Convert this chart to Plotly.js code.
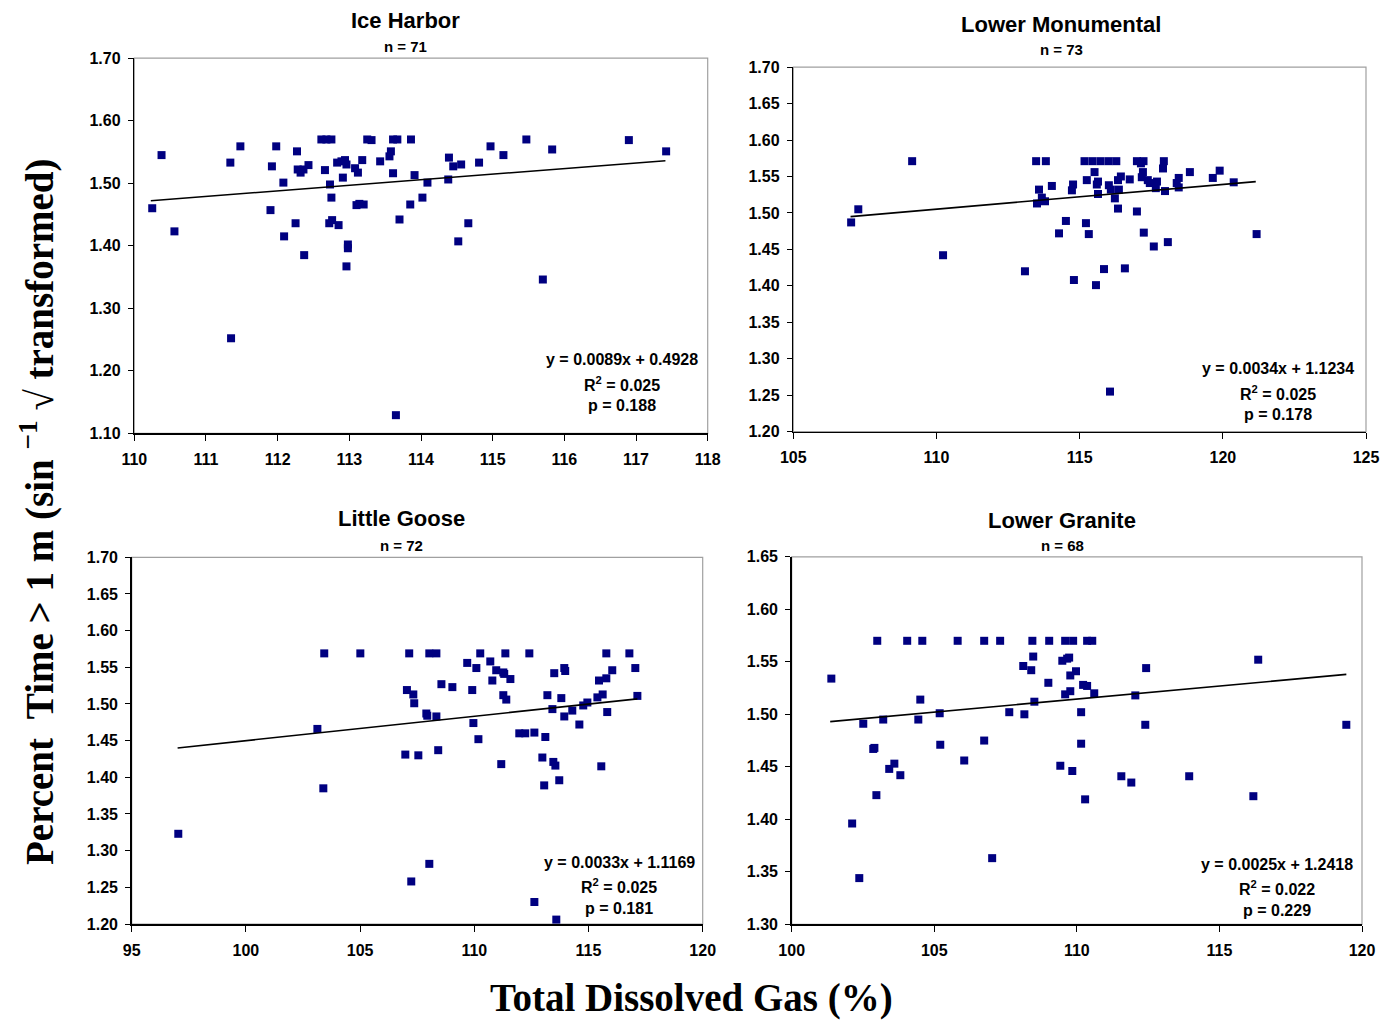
<!DOCTYPE html>
<html>
<head>
<meta charset="utf-8">
<script src="https://cdn.plot.ly/plotly-3.0.1.min.js"></script>
<style>html,body{margin:0;padding:0;background:#fff;}#chart{width:1382px;height:1022px;}</style>
</head>
<body>
<div id="chart"></div>
<script>
// ---------- DATA ----------
const panelNames = ["Ice Harbor", "Lower Monumental", "Little Goose", "Lower Granite"];
const panelN = [71, 73, 72, 68];
const equations = ["y = 0.0089x + 0.4928", "y = 0.0034x + 1.1234", "y = 0.0033x + 1.1169", "y = 0.0025x + 1.2418"];
const rSquared = ["0.025", "0.025", "0.025", "0.022"];
const pValues = ["0.188", "0.178", "0.181", "0.229"];

const iceHarborX = [110.25,110.38,110.56,111.34,111.35,111.48,111.90,111.92,111.98,112.08,112.09,112.25,112.27,112.28,112.32,112.36,112.37,112.43,112.61,112.68,112.75,112.66,112.73,112.75,112.72,112.76,112.85,112.83,112.89,112.94,112.96,112.91,112.98,112.98,112.96,113.08,113.12,113.10,113.14,113.20,113.18,113.25,113.31,113.43,113.56,113.58,113.61,113.61,113.67,113.70,113.65,113.85,113.86,113.91,114.02,114.09,114.38,114.39,114.45,114.56,114.52,114.66,114.81,114.97,115.15,115.47,115.70,115.83,116.90,117.42];
const iceHarborY = [1.460,1.545,1.423,1.533,1.252,1.559,1.457,1.527,1.559,1.501,1.415,1.436,1.551,1.522,1.517,1.522,1.385,1.529,1.570,1.570,1.570,1.521,1.498,1.477,1.436,1.441,1.433,1.533,1.535,1.537,1.530,1.509,1.402,1.396,1.367,1.524,1.517,1.465,1.467,1.466,1.537,1.570,1.569,1.535,1.543,1.551,1.516,1.570,1.570,1.442,1.129,1.466,1.570,1.513,1.477,1.501,1.506,1.541,1.527,1.530,1.407,1.436,1.533,1.559,1.545,1.570,1.346,1.554,1.569,1.551];

const lowerMonX = [107.02,107.27,109.15,110.23,113.09,113.48,113.82,113.58,114.03,113.68,113.51,113.79,114.52,114.28,114.77,114.73,114.80,115.17,115.45,115.73,116.01,116.28,117.00,117.23,117.94,115.52,115.25,115.64,115.60,116.02,116.44,116.34,116.75,116.37,116.09,115.64,116.23,116.34,117.00,117.14,117.21,117.17,117.38,117.70,117.45,117.66,117.98,117.91,118.46,118.39,118.46,118.85,119.65,119.89,120.38,115.22,115.32,117.24,117.59,118.08,121.18,115.85,116.58,115.57,116.06];
const lowerMonY = [1.487,1.505,1.571,1.442,1.420,1.571,1.571,1.532,1.537,1.521,1.513,1.516,1.489,1.472,1.539,1.531,1.408,1.571,1.571,1.571,1.571,1.571,1.571,1.571,1.571,1.556,1.545,1.543,1.539,1.538,1.550,1.545,1.546,1.532,1.532,1.526,1.520,1.506,1.502,1.568,1.556,1.549,1.545,1.543,1.541,1.534,1.530,1.561,1.548,1.541,1.535,1.556,1.548,1.558,1.542,1.486,1.471,1.473,1.454,1.460,1.471,1.423,1.424,1.401,1.255];

const littleGooseX = [97.04,103.13,103.43,103.39,105.01,107.15,107.05,107.33,107.37,106.98,107.55,107.24,108.03,108.34,107.90,107.94,108.34,108.56,109.04,108.42,108.03,109.69,110.09,110.26,109.91,109.96,110.18,110.70,110.96,111.27,111.31,110.79,111.58,111.36,111.27,111.40,111.18,112.41,111.97,112.23,112.63,112.63,113.11,112.98,113.46,113.55,113.06,113.72,113.59,113.20,113.42,113.50,113.94,113.98,113.81,113.94,114.29,114.60,114.77,114.95,115.39,115.62,115.82,115.46,115.78,116.04,115.78,115.56,116.79,117.05,117.14];
const littleGooseY = [1.323,1.466,1.569,1.385,1.569,1.569,1.519,1.513,1.501,1.431,1.430,1.258,1.569,1.569,1.487,1.484,1.483,1.527,1.523,1.437,1.282,1.556,1.549,1.569,1.519,1.474,1.452,1.558,1.546,1.543,1.541,1.532,1.534,1.569,1.512,1.506,1.418,1.569,1.460,1.460,1.461,1.230,1.455,1.427,1.421,1.416,1.389,1.396,1.206,1.512,1.493,1.542,1.549,1.545,1.508,1.483,1.491,1.472,1.498,1.502,1.509,1.513,1.489,1.532,1.535,1.546,1.569,1.415,1.569,1.549,1.511];

const lowerGraniteX = [101.39,102.12,102.37,102.51,102.86,102.90,102.97,103.00,103.21,103.42,103.60,103.81,104.05,104.44,104.51,104.58,105.19,105.21,105.82,106.05,106.75,106.75,107.03,107.31,107.63,108.16,108.12,108.40,108.47,108.44,108.51,109.03,109.00,109.42,109.84,109.59,109.77,109.77,109.97,109.49,109.66,109.73,109.59,109.87,110.36,110.54,110.22,110.36,110.61,110.15,110.15,110.29,111.56,111.91,112.05,112.40,112.43,113.94,116.19,116.36,119.45];
const lowerGraniteY = [1.534,1.396,1.344,1.491,1.467,1.468,1.423,1.570,1.495,1.448,1.453,1.442,1.570,1.495,1.514,1.570,1.501,1.471,1.570,1.456,1.570,1.475,1.363,1.570,1.502,1.500,1.546,1.542,1.555,1.570,1.512,1.570,1.530,1.451,1.446,1.519,1.522,1.537,1.541,1.551,1.553,1.554,1.570,1.570,1.570,1.570,1.528,1.527,1.520,1.502,1.472,1.419,1.441,1.435,1.518,1.490,1.544,1.441,1.422,1.552,1.490];

// trend line end points as drawn in the picture
const trendX = [[110.23,117.41],[107.0,121.15],[97.01,117.14],[101.35,119.45]];
const trendY = [[1.472,1.536],[1.495,1.543],[1.440,1.507],[1.493,1.538]];

const xTitle = "Total Dissolved Gas (%)";
const yTitle = "Percent  Time > 1 m (sin <sup>−1</sup> √ transformed)";

// ---------- LAYOUT ----------
const W = 1382, H = 1022;
const seriesX = [iceHarborX, lowerMonX, littleGooseX, lowerGraniteX];
const seriesY = [iceHarborY, lowerMonY, littleGooseY, lowerGraniteY];
// pixel boxes: left, right, top, bottom
const boxes = [[134.3,707.7,58.2,433.3],[793.3,1366,67.1,431.7],[131.7,702.7,557.3,924],[791.7,1362,556.8,924.3]];
const xr = [[110,118],[105,125],[95,120],[100,120]];
const xd = [1,5,5,5];
const yr = [[1.10,1.70],[1.20,1.70],[1.20,1.70],[1.30,1.65]];
const yd = [0.1,0.05,0.05,0.05];
const titlePos = [[405,20,46],[1061,24,50],[402,518,545],[1062,520,545]];
const statPos = [[622,359,384,405],[1278,368,393,414],[619,862,886,908],[1277,864,888,910]];

const FONT = "Liberation Sans, Arial, sans-serif";
const SERIF = "Liberation Serif, Times New Roman, serif";
const traces = [];
const layout = {
  width: W, height: H, margin: {l:0,r:0,t:0,b:0},
  paper_bgcolor: "#ffffff", plot_bgcolor: "#ffffff",
  showlegend: false, annotations: [], shapes: [],
  font: {family: FONT, color: "#000"}
};
for (let i = 0; i < 4; i++) {
  const k = i === 0 ? "" : String(i+1);
  const b = boxes[i];
  traces.push({
    type: "scatter", mode: "markers", x: seriesX[i], y: seriesY[i],
    xaxis: "x"+k, yaxis: "y"+k, cliponaxis: false,
    marker: {symbol: "square", size: 8, color: "#000080", line: {width: 0}},
    hoverinfo: "x+y"
  });
  traces.push({
    type: "scatter", mode: "lines", x: trendX[i], y: trendY[i],
    xaxis: "x"+k, yaxis: "y"+k,
    line: {color: "#000", width: 1.6}, hoverinfo: "skip"
  });
  layout["xaxis"+k] = {
    domain: [b[0]/W, b[1]/W], anchor: "y"+k, range: xr[i], dtick: xd[i], tick0: 0,
    showgrid: false, zeroline: false, showline: true, linecolor: "#000", linewidth: 1.5,
    ticks: "outside", ticklen: 6, tickwidth: 1, tickcolor: "#000",
    ticklabelstandoff: 5,
    tickfont: {family: FONT, size: 16, color: "#000", weight: "bold"}
  };
  layout["yaxis"+k] = {
    domain: [1-b[3]/H, 1-b[2]/H], anchor: "x"+k, range: yr[i], dtick: yd[i], tick0: 0,
    tickformat: ".2f",
    showgrid: false, zeroline: false, showline: true, linecolor: "#000", linewidth: 1.5,
    ticks: "outside", ticklen: 5, tickwidth: 1, tickcolor: "#000",
    ticklabelstandoff: 4,
    tickfont: {family: FONT, size: 16, color: "#000", weight: "bold"}
  };
  layout.shapes.push({type: "rect", xref: "x"+k+" domain", yref: "y"+k+" domain",
    x0: 0, x1: 1, y0: 0, y1: 1, line: {color: "#a0a0a0", width: 1.2}, layer: "below"});
  const t = titlePos[i];
  layout.annotations.push({xref: "paper", yref: "paper", x: t[0]/W, y: 1-t[1]/H, xanchor: "center", yanchor: "middle",
    text: panelNames[i], showarrow: false, font: {family: FONT, size: 22, color: "#000", weight: "bold"}});
  layout.annotations.push({xref: "paper", yref: "paper", x: t[0]/W, y: 1-t[2]/H, xanchor: "center", yanchor: "middle",
    text: "n = " + panelN[i], showarrow: false, font: {family: FONT, size: 15, color: "#000", weight: "bold"}});
  const s = statPos[i];
  const sf = {family: FONT, size: 16, color: "#000", weight: "bold"};
  layout.annotations.push({xref: "paper", yref: "paper", x: s[0]/W, y: 1-s[1]/H, xanchor: "center", yanchor: "middle",
    text: equations[i], showarrow: false, font: sf});
  layout.annotations.push({xref: "paper", yref: "paper", x: s[0]/W, y: 1-s[2]/H, xanchor: "center", yanchor: "middle",
    text: "R<sup>2</sup> = " + rSquared[i], showarrow: false, font: sf});
  layout.annotations.push({xref: "paper", yref: "paper", x: s[0]/W, y: 1-s[3]/H, xanchor: "center", yanchor: "middle",
    text: "p = " + pValues[i], showarrow: false, font: sf});
}
layout.annotations.push({xref: "paper", yref: "paper", x: 691/W, y: 1-998/H, xanchor: "center", yanchor: "middle",
  text: xTitle, showarrow: false, font: {family: SERIF, size: 39, color: "#000", weight: "bold"}});
layout.annotations.push({xref: "paper", yref: "paper", x: 37/W, y: 1-512/H, xanchor: "center", yanchor: "middle",
  text: yTitle, textangle: -90, showarrow: false, font: {family: SERIF, size: 39, color: "#000", weight: "bold"}});

Plotly.newPlot("chart", traces, layout, {displayModeBar: false, staticPlot: true});
</script>
</body>
</html>
